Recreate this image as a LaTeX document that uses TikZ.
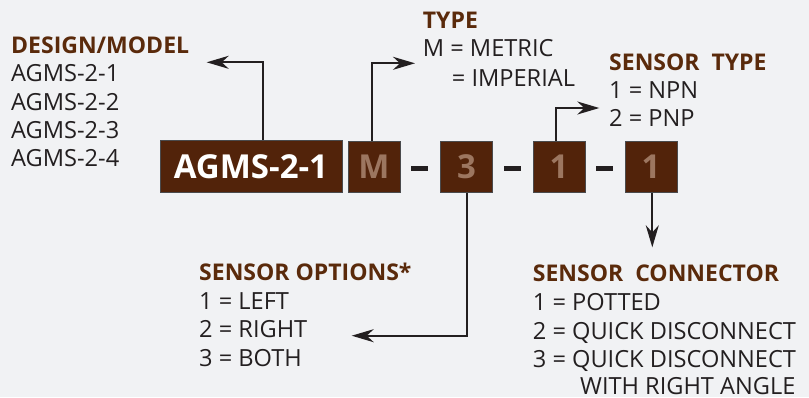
\documentclass[tikz,border=0pt]{standalone}
\usepackage{fontspec}
\setmainfont{Open Sans}
\usetikzlibrary{arrows.meta}
\definecolor{bg}{HTML}{F1F2F4}
\definecolor{boxbrown}{HTML}{52230A}
\definecolor{headbrown}{HTML}{5A2A0B}
\definecolor{digitc}{HTML}{9C7660}
\definecolor{ink}{HTML}{231F20}
\definecolor{edge}{HTML}{4A4A4C}
\tikzset{
  codebox/.style={draw=edge, line width=0.9pt, fill=boxbrown, inner sep=0pt, anchor=north west},
  digit/.style={codebox, minimum width=52pt, minimum height=51pt, text=digitc, font=\bfseries\fontsize{33}{33}\selectfont},
  heading/.style={anchor=base west, inner sep=0pt, text=headbrown, font=\bfseries\fontsize{23}{23}\selectfont},
  item/.style={anchor=base west, inner sep=0pt, text=ink, font=\fontsize{23.6}{23.6}\selectfont},
  conn/.style={draw=ink, line width=2pt, -{Stealth[length=22pt,width=13pt,inset=7pt]}},
  dashbar/.style={fill=ink, draw=none, minimum width=17pt, minimum height=5pt, inner sep=0pt}
}
\begin{document}
\begin{tikzpicture}[x=1pt,y=-1pt]
\fill[bg] (0,0) rectangle (809,397);
\useasboundingbox (0,0) rectangle (809,397);

% boxes
\node[codebox, minimum width=182pt, minimum height=52pt, text=white, font=\bfseries\fontsize{33}{33}\selectfont] (agms) at (159.5,140) {AGMS-2-1};
\node[digit] (m) at (347.5,141) {M};
\node[dashbar] (d1) at (419.5,168) {};
\node[digit] (b3) at (440,141) {3};
\node[dashbar] (d2) at (512,168) {};
\node[digit] (b1) at (532.5,141) {1};
\node[dashbar] (d3) at (604.5,168) {};
\node[digit] (b1b) at (624.5,141) {1};

% left block
\node[heading] (hdm) at (11,53.3) {DESIGN/MODEL};
\node[item] (dm1) at (11,81.7) {AGMS-2-1};
\node[item] (dm2) at (11,110) {AGMS-2-2};
\node[item] (dm3) at (11,138.3) {AGMS-2-3};
\node[item] (dm4) at (11,166.7) {AGMS-2-4};

% type
\node[heading] (ht) at (422.7,28.3) {TYPE};
\node[item] (t1) at (422.7,56.7) {M = METRIC};
\node[item] (t2) at (451.7,86) {= IMPERIAL};

% sensor type
\node[heading] (hst) at (609,70) {SENSOR\ \ TYPE};
\node[item] (st1) at (609,98.3) {1 = NPN};
\node[item] (st2) at (609,126.7) {2 = PNP};

% sensor options
\node[heading] (hso) at (199,280) {SENSOR OPTIONS*};
\node[item] (so1) at (199,309) {1 = LEFT};
\node[item] (so2) at (199,337.7) {2 = RIGHT};
\node[item] (so3) at (199,366.7) {3 = BOTH};

% sensor connector
\node[heading] (hsc) at (532.7,281) {SENSOR\ \ CONNECTOR};
\node[item] (sc1) at (532.7,310) {1 = POTTED};
\node[item] (sc2) at (532.7,339) {2 = QUICK DISCONNECT};
\node[item] (sc3) at (532.7,367.7) {3 = QUICK DISCONNECT};
\node[item] (sc4) at (580,394) {WITH RIGHT ANGLE};

% connector ends
\coordinate (eA) at (206.7,62.3);
\coordinate (eM) at (415,63.3);
\coordinate (e1) at (599.3,108);
\coordinate (e3) at (351.7,335.7);
\coordinate (e1b) at (652.3,247.3);

\draw[conn] (agms.north -| 263.3,0) |- (eA);
\draw[conn] (m.north -| 372.3,0) |- (eM);
\draw[conn] (b1.north -| 556,0) |- (e1);
\draw[conn] (b3.south -| 466.7,0) |- (e3);
\draw[conn] (b1b.south -| e1b) -- (e1b);
\end{tikzpicture}
\end{document}
